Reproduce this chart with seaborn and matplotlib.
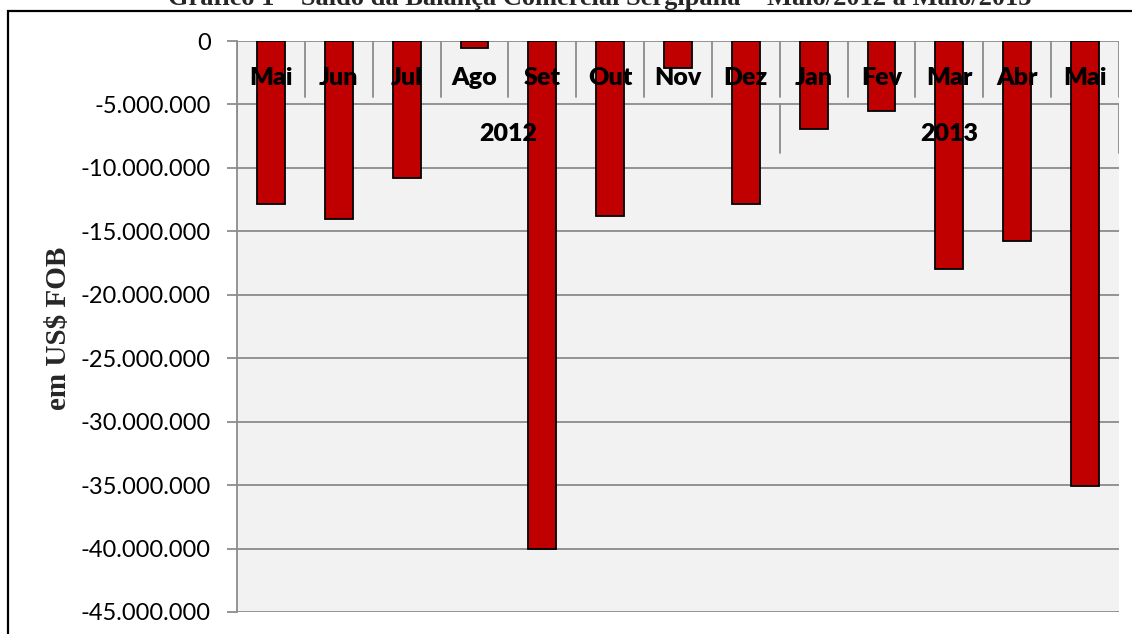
import numpy as np
import pandas as pd
import seaborn as sns
import matplotlib.pyplot as plt
from matplotlib.patches import Rectangle

# dados (saldo em US$ FOB)
periodos = ['Mai/12', 'Jun/12', 'Jul/12', 'Ago/12', 'Set/12', 'Out/12', 'Nov/12',
            'Dez/12', 'Jan/13', 'Fev/13', 'Mar/13', 'Abr/13', 'Mai/13']
meses = ['Mai', 'Jun', 'Jul', 'Ago', 'Set', 'Out', 'Nov', 'Dez', 'Jan', 'Fev', 'Mar', 'Abr', 'Mai']
saldo = [-12850000, -14050000, -10800000, -550000, -40000000, -13800000, -2150000,
         -12850000, -6950000, -5500000, -17950000, -15800000, -35050000]
anos = ['2012', '2013']
meses_por_ano = [8, 5]
y_ticks = [0, -5000000, -10000000, -15000000, -20000000, -25000000, -30000000,
           -35000000, -40000000, -45000000]

df = pd.DataFrame({'periodo': periodos, 'saldo': saldo})

sns.set_style('white')
plt.rcParams['font.family'] = ['Lato', 'DejaVu Sans']

fig = plt.figure(figsize=(11.32, 6.34), dpi=100)
ax = fig.add_axes([237 / 1132, 1 - 612 / 634, 882 / 1132, 571 / 634])
ax.set_facecolor('#F2F2F2')

grid_c = '#8C8C8C'
for v in y_ticks:
    ax.axhline(v, color=grid_c, lw=1.3, zorder=1)

sns.barplot(data=df, x='periodo', y='saldo', color='#C00000', width=0.41,
            edgecolor='black', linewidth=1.3, saturation=1, ax=ax, zorder=3)

ax.set_ylim(-45000000, 0)
ax.set_xlim(-0.5, len(periodos) - 0.5)
ax.set_yticks(y_ticks)
ax.set_yticklabels([f'{int(v):,}'.replace(',', '.') for v in y_ticks], fontsize=17, color='black')
ax.tick_params(axis='y', length=7, width=1.3, color=grid_c, pad=12, left=True)
ax.set_xticks([])
ax.set_xlabel('')
ax.set_ylabel('')
for s in ['top', 'right', 'bottom']:
    ax.spines[s].set_visible(False)
ax.spines['left'].set_color(grid_c)
ax.spines['left'].set_linewidth(1.3)

# eixo de categorias em dois niveis (mes / ano) dentro da area do grafico
for i in range(len(periodos) + 1):
    ax.plot([i - 0.5, i - 0.5], [0, -4420000], color=grid_c, lw=1.3, zorder=2)
for i, m in enumerate(meses):
    ax.text(i, -2920000, m, ha='center', va='center', fontsize=18,
            fontweight='heavy', color='black', zorder=5)
inicio = 0
for ano, n in zip(anos, meses_por_ano):
    ax.plot([inicio - 0.5, inicio - 0.5], [-4970000, -8830000], color=grid_c, lw=1.3, zorder=2)
    ax.text(inicio + (n - 1) / 2, -7330000, ano, ha='center', va='center',
            fontsize=18, fontweight='heavy', color='black', zorder=5)
    inicio += n
ax.plot([inicio - 0.5, inicio - 0.5], [-4970000, -8830000], color=grid_c, lw=1.3, zorder=2)

fig.text(59 / 1132, 1 - 328 / 634, 'em US$ FOB', rotation=90, ha='center', va='center',
         fontsize=21, fontweight='bold', family=['Liberation Serif', 'DejaVu Serif'])

fig.text(0.53, 1 - 5 / 634, 'Gráfico 1 – Saldo da Balança Comercial Sergipana – Maio/2012 a Maio/2013',
         ha='center', va='baseline', fontsize=19, fontweight='bold',
         family=['Liberation Serif', 'DejaVu Serif'])

# moldura externa
fig.patches.append(Rectangle((8 / 1132, -0.05), 1.2, 1.05 - 11 / 634, transform=fig.transFigure,
                             fill=False, edgecolor='black', lw=1.6))

fig.savefig('out.png', dpi=100)
